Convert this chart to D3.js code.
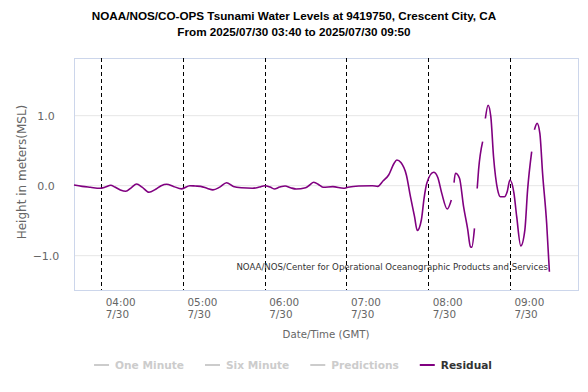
<!DOCTYPE html>
<html>
<head>
<meta charset="utf-8">
<script src="https://cdn.jsdelivr.net/npm/d3@7"></script>
<style>
  body { margin: 0; background: #ffffff; }
</style>
</head>
<body>
<div id="chart"></div>
<script>
// residual readings, one entry per sample time (null = gap in the record)
var times = ["03:40","03:46","03:52","03:59","04:03","04:07","04:10","04:14","04:18","04:22",
  "04:26","04:30","04:35","04:40","04:44","04:48","04:53","04:59","05:05","05:09",
  "05:13","05:18","05:22","05:27","05:32","05:37","05:43","05:51","05:56","06:00",
  "06:04","06:07","06:11","06:15","06:19","06:23","06:30","06:33","06:36","06:40",
  "06:43","06:50","06:58","07:01","07:09","07:19","07:23","07:27","07:31","07:35",
  "07:37","07:40","07:44","07:47","07:50","07:52","07:55","07:57","07:59","08:04",
  "08:07","08:10","08:14","08:17","08:18","08:19","08:20","08:23","08:26","08:29",
  "08:31","08:32","08:34","08:35","08:36","08:37","08:40","08:41","08:42","08:44",
  "08:46","08:48","08:51","08:53","08:56","08:58","09:00","09:03","09:05","09:08",
  "09:11","09:13","09:16","09:17","09:18","09:20","09:22","09:24","09:27","09:29"];
var residual = [0.01,-0.01,-0.023,-0.037,-0.02,0.006,-0.02,-0.06,-0.08,-0.03,
  0.024,-0.02,-0.094,-0.05,0.0,0.02,-0.01,-0.045,0.0,-0.005,
  -0.01,-0.04,-0.06,-0.02,0.043,-0.01,-0.03,-0.037,-0.02,0.0,
  -0.02,-0.047,-0.02,-0.004,-0.03,-0.047,-0.03,0.01,0.049,0.01,
  -0.023,-0.014,-0.037,-0.023,-0.004,0.0,-0.01,0.07,0.153,0.32,
  0.367,0.33,0.153,-0.157,-0.443,-0.64,-0.49,-0.18,0.034,0.191,
  0.12,-0.11,-0.333,-0.204,null,0.043,0.177,0.106,-0.3,-0.62,
  -0.87,-0.88,-0.61,null,-0.04,0.225,0.63,null,0.96,1.15,
  0.986,0.414,-0.06,-0.157,-0.157,-0.086,0.081,-0.11,-0.443,-0.86,
  -0.63,-0.06,0.486,null,0.8,0.89,0.748,0.176,-0.54,-1.23];

var hourTicks = ["04:00","05:00","06:00","07:00","08:00","09:00"];
var tickDates = ["7/30","7/30","7/30","7/30","7/30","7/30"];
var yTicks = [-1, 0, 1];
var legendNames = ["One Minute","Six Minute","Predictions","Residual"];
var legendColors = ["#cccccc","#cccccc","#cccccc","#800080"];
var legendTextColors = ["#cccccc","#cccccc","#cccccc","#333333"];

var width = 588,
    height = 392;

var parseTime = d3.timeParse("%Y-%m-%d %H:%M");
function t(s) { return parseTime("2025-07-30 " + s); }

var x = d3.scaleTime()
    .domain([t("03:40"), t("09:50")])
    .range([74, 578]);
var y = d3.scaleLinear()
    .domain([-1.49, 1.824])
    .range([290, 58]);

var data = times.map(function(d, i) { return {time: t(d), value: residual[i]}; });

var svg = d3.select("#chart").append("svg")
    .attr("width", width)
    .attr("height", height)
    .style("font-family", "'DejaVu Sans', Verdana, sans-serif");

// titles
svg.append("text")
    .text("NOAA/NOS/CO-OPS Tsunami Water Levels at 9419750, Crescent City, CA")
    .attr("x", 294)
    .attr("y", 19.5)
    .attr("text-anchor", "middle")
    .attr("font-family", "'Liberation Sans', Arial, sans-serif")
    .attr("font-weight", "bold")
    .attr("font-size", "11.7px")
    .attr("fill", "#000");
svg.append("text")
    .text("From 2025/07/30 03:40 to 2025/07/30 09:50")
    .attr("x", 294)
    .attr("y", 36)
    .attr("text-anchor", "middle")
    .attr("font-family", "'Liberation Sans', Arial, sans-serif")
    .attr("font-weight", "bold")
    .attr("font-size", "11.7px")
    .attr("fill", "#000");

// grid
svg.append("g").selectAll("line")
    .data(yTicks)
    .enter().append("line")
    .attr("x1", x.range()[0])
    .attr("x2", x.range()[1])
    .attr("y1", function(d) { return y(d); })
    .attr("y2", function(d) { return y(d); })
    .attr("stroke", "#e6e6e6")
    .attr("stroke-width", 1);

svg.append("g").selectAll("text")
    .data(yTicks)
    .enter().append("text")
    .text(d3.format(".1f"))
    .attr("x", 46)
    .attr("y", function(d) { return y(d); })
    .attr("dy", "0.35em")
    .attr("text-anchor", "middle")
    .attr("font-size", "11px")
    .attr("fill", "#666666");

// plot frame
svg.append("rect")
    .attr("x", x.range()[0] + 0.5)
    .attr("y", y.range()[1] + 0.5)
    .attr("width", x.range()[1] - x.range()[0])
    .attr("height", y.range()[0] - y.range()[1])
    .attr("fill", "none")
    .attr("stroke", "#ccd6eb")
    .attr("stroke-width", 1);

// hourly dashed markers
svg.append("g").selectAll("line")
    .data(hourTicks)
    .enter().append("line")
    .attr("x1", function(d) { return Math.round(x(t(d))) + 0.5; })
    .attr("x2", function(d) { return Math.round(x(t(d))) + 0.5; })
    .attr("y1", y.range()[1])
    .attr("y2", y.range()[0])
    .attr("stroke", "#000")
    .attr("stroke-width", 1)
    .attr("stroke-dasharray", "4,3");

// x labels
var xl = svg.append("g").selectAll("text")
    .data(hourTicks)
    .enter().append("text")
    .attr("font-size", "10.4px")
    .attr("fill", "#666666");
xl.append("tspan")
    .attr("x", function(d) { return x(t(d)) + 4.5; })
    .attr("y", 305.5)
    .text(function(d) { return d; });
xl.append("tspan")
    .attr("x", function(d) { return x(t(d)) + 4.5; })
    .attr("y", 318)
    .text(function(d, i) { return tickDates[i]; });

svg.append("text")
    .text("Date/Time (GMT)")
    .attr("x", (x.range()[0] + x.range()[1]) / 2)
    .attr("y", 338)
    .attr("text-anchor", "middle")
    .attr("font-size", "10.2px")
    .attr("fill", "#666666");

svg.append("text")
    .text("Height in meters(MSL)")
    .attr("transform", "translate(26,172) rotate(-90)")
    .attr("text-anchor", "middle")
    .attr("font-size", "12px")
    .attr("fill", "#666666");

// watermark
svg.append("text")
    .text("NOAA/NOS/Center for Operational Oceanographic Products and Services")
    .attr("x", 548)
    .attr("y", 269.5)
    .attr("text-anchor", "end")
    .attr("font-size", "8.6px")
    .attr("fill", "#333333");

// residual line
var line = d3.line()
    .defined(function(d) { return d.value !== null; })
    .x(function(d) { return x(d.time); })
    .y(function(d) { return y(d.value); })
    .curve(d3.curveMonotoneX);

svg.append("path")
    .datum(data)
    .attr("d", line)
    .attr("fill", "none")
    .attr("stroke", "#800080")
    .attr("stroke-width", 1.6)
    .attr("stroke-linejoin", "round");

// legend
var legend = svg.append("g");
var lx = 0;
legendNames.forEach(function(name, i) {
  var item = legend.append("g").attr("transform", "translate(" + lx + ",0)");
  item.append("line")
      .attr("x1", 0)
      .attr("x2", 15)
      .attr("y1", 365)
      .attr("y2", 365)
      .attr("stroke", legendColors[i])
      .attr("stroke-width", 2);
  var txt = item.append("text")
      .text(name)
      .attr("x", 21)
      .attr("y", 369)
      .attr("font-size", "10.6px")
      .attr("font-weight", "bold")
      .attr("fill", legendTextColors[i]);
  lx += 21 + txt.node().getComputedTextLength() + 21;
});
var legendWidth = lx - 21;
legend.attr("transform", "translate(" + (293 - legendWidth / 2) + ",0)");
</script>
</body>
</html>
